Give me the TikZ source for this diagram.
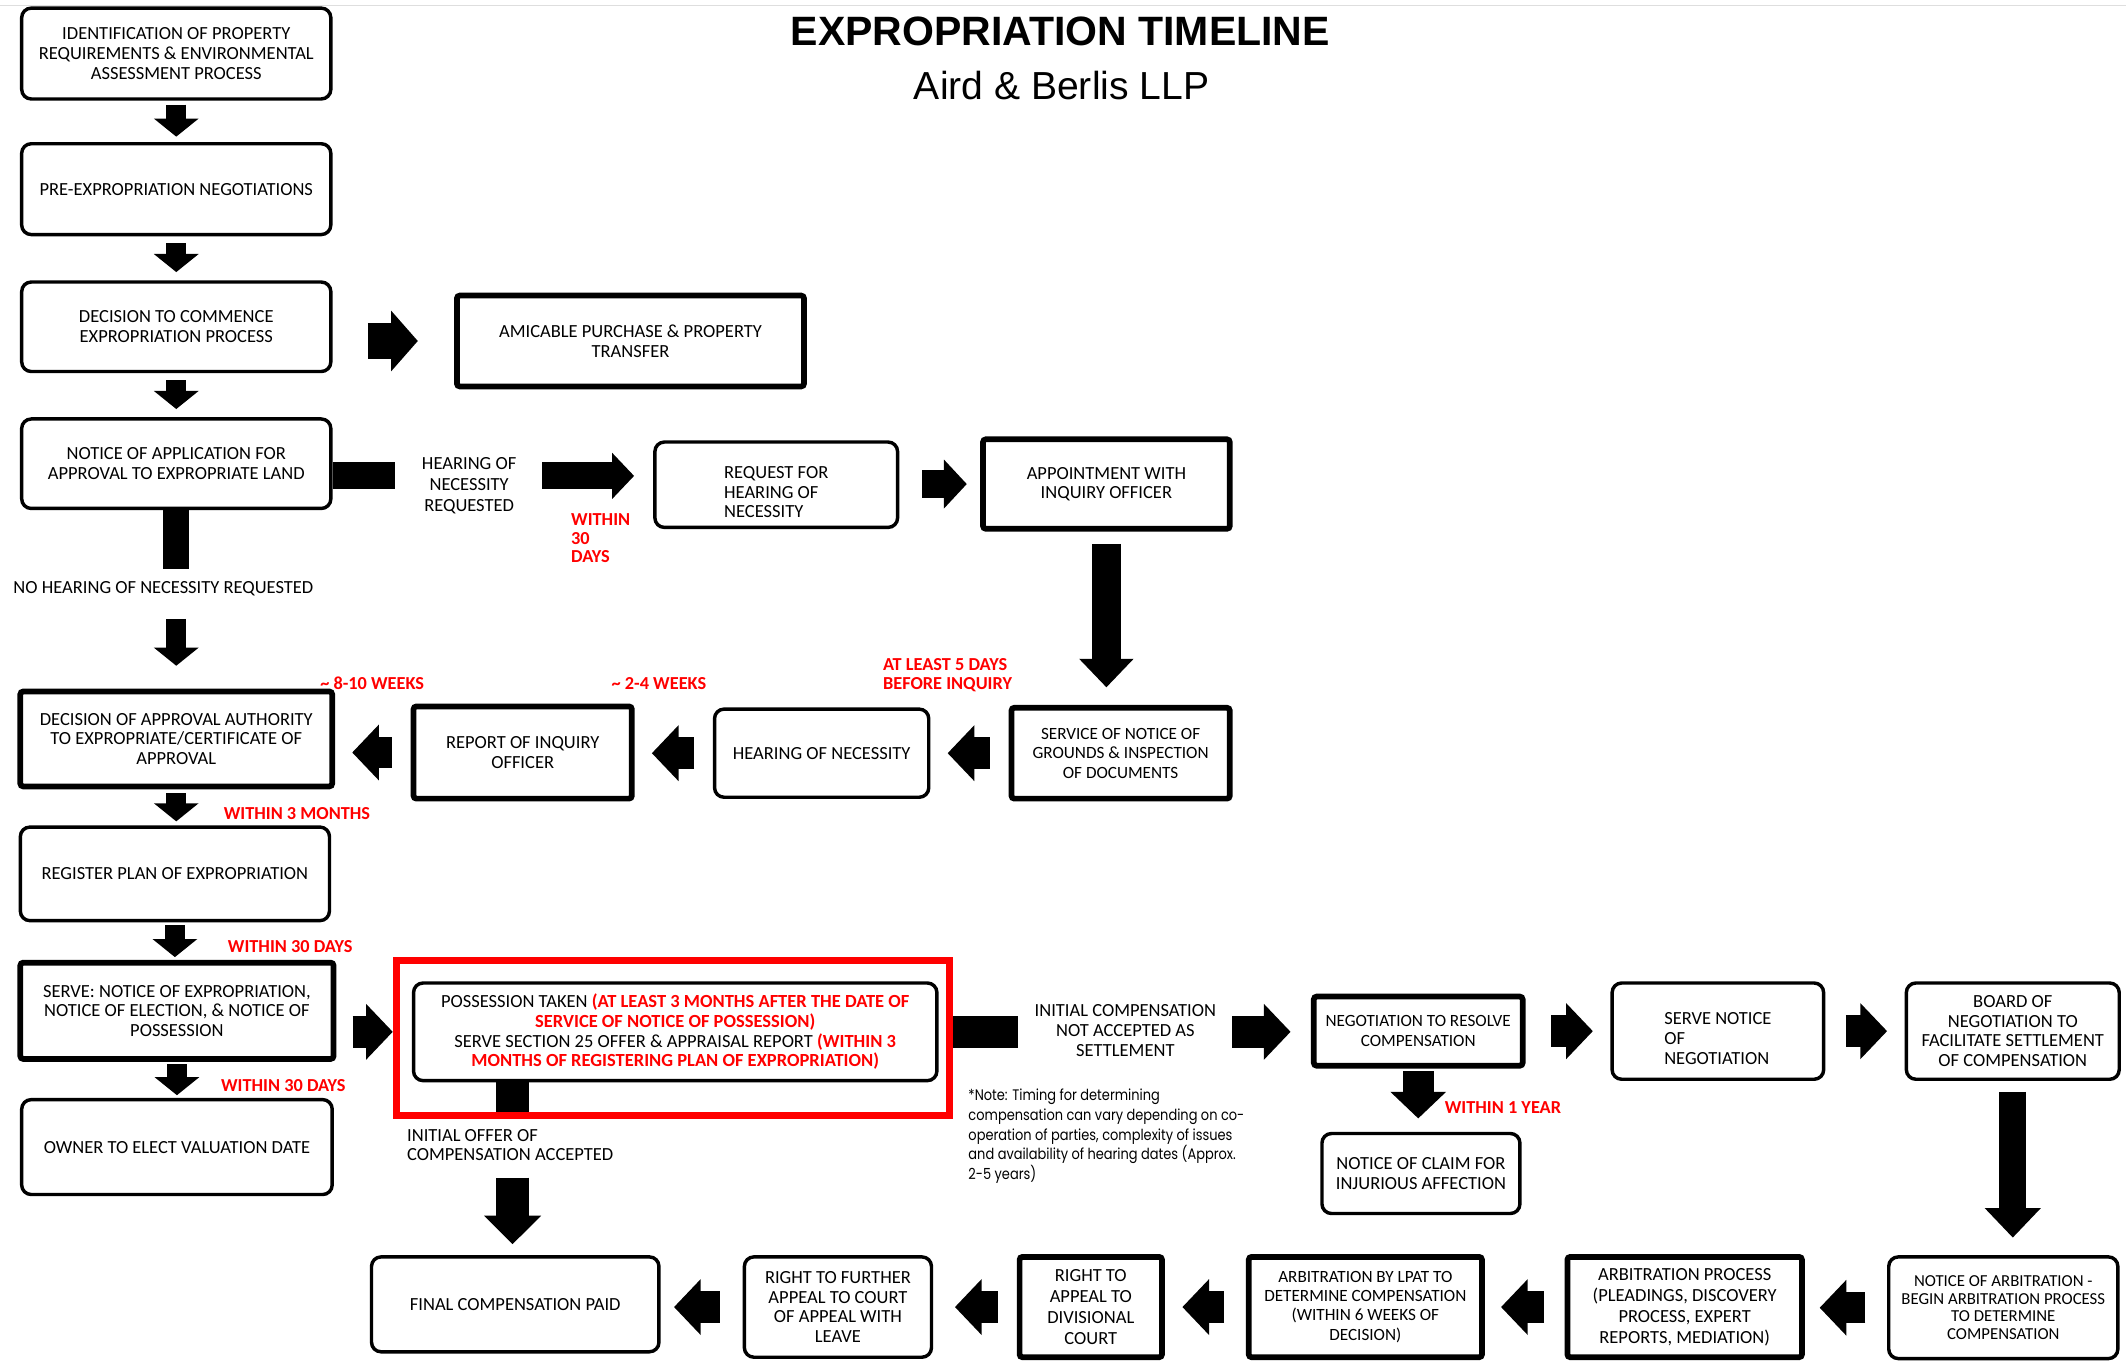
\documentclass[tikz,border=0pt]{standalone}
\usepackage{fontspec}
\setmainfont{Carlito}
\newfontfamily\headfont{Liberation Sans}
\newfontfamily\notefont{Poppins}[FakeStretch=0.85]
\usetikzlibrary{arrows.meta}
\definecolor{alert}{HTML}{FF0000}
\newcommand{\boxfont}{\fontsize{9.7}{10.3}\selectfont}
\newcommand{\redpart}[1]{{\color{alert}\bfseries #1}}
\newcommand{\lowstrut}{\rule{0pt}{14pt}}

\begin{document}
\begin{tikzpicture}[x=0.025cm, y=-0.025cm,
	sz/.style 2 args={minimum width=#1*0.025cm, minimum height=#2*0.025cm},
	stage/.style={draw, line width=1.8pt, rounded corners=5pt, align=center, inner sep=2pt, font=\boxfont},
	heavy/.style={stage, line width=3pt, rounded corners=1.5pt},
	tag/.style={text=alert, font=\fontsize{9.6}{9.8}\selectfont\bfseries, inner sep=0pt, align=left},
	plain/.style={font=\boxfont, inner sep=0pt, align=center},
	lcol/.style={line width=10.7pt, -{Triangle[width=23pt,length=9.5pt]}},
	mid/.style={line width=14.5pt, -{Triangle[width=25pt,length=12pt]}},
	fat/.style={line width=16.5pt, -{Triangle[width=28.5pt,length=14pt]}},
	bar/.style={line width=#1}]
	\fill[white] (0,0) rectangle (1568,1005);
	\useasboundingbox (0,0) rectangle (1568,1005);
	\draw[black!13, line width=0.8pt] (0,4) -- (1568,4);
	
	\node[font=\headfont\bfseries\fontsize{21.5}{22}\selectfont] (title) at (782,23) {EXPROPRIATION TIMELINE};
	\node[font=\headfont\fontsize{20.5}{21}\selectfont] (firm) at (783,63) {Aird \& Berlis LLP};
	
	% left column
	\node[stage, sz={228}{67}] (ident) at (130,39.5) {IDENTIFICATION OF PROPERTY\\REQUIREMENTS \& ENVIRONMENTAL\\ASSESSMENT PROCESS};
	\node[stage, sz={228}{67}] (preneg) at (130,139.5) {PRE-EXPROPRIATION NEGOTIATIONS};
	\node[stage, sz={228}{66}] (commence) at (130,241) {DECISION TO COMMENCE\\EXPROPRIATION PROCESS};
	\node[stage, sz={228}{66}] (notice) at (130,342) {NOTICE OF APPLICATION FOR\\APPROVAL TO EXPROPRIATE LAND};
	\node[heavy, sz={230}{70}] (approval) at (130,545) {DECISION OF APPROVAL AUTHORITY\\TO EXPROPRIATE/CERTIFICATE OF\\APPROVAL};
	\node[stage, sz={228}{69}] (register) at (129,644.5) {REGISTER PLAN OF EXPROPRIATION};
	\node[heavy, sz={231}{71}] (serve) at (130.5,745.5) {SERVE: NOTICE OF EXPROPRIATION,\\NOTICE OF ELECTION, \& NOTICE OF\\POSSESSION};
	\node[stage, sz={229}{70}] (owner) at (130.5,846) {OWNER TO ELECT VALUATION DATE};
	
	% hearing of necessity branch
	\node[heavy, sz={256}{67}] (amicable) at (465,251.5) {AMICABLE PURCHASE \& PROPERTY\\TRANSFER};
	\node[stage, sz={179}{63}, align=left] (request) at (572.5,357.5) {\lowstrut REQUEST FOR\\HEARING OF\\NECESSITY};
	\node[heavy, sz={182}{66}] (appoint) at (816,357) {APPOINTMENT WITH\\INQUIRY OFFICER};
	\node[heavy, sz={161}{68}] (report) at (385.5,555) {REPORT OF INQUIRY\\OFFICER};
	\node[stage, sz={158}{65}] (hearing) at (606,555.5) {HEARING OF NECESSITY};
	\node[heavy, sz={161}{67}, font=\fontsize{9}{10.3}\selectfont] (service) at (826.5,555.5) {SERVICE OF NOTICE OF\\GROUNDS \& INSPECTION\\OF DOCUMENTS};
	
	% compensation
	\node[stage, sz={386}{72}] (possess) at (498,761) {POSSESSION TAKEN \redpart{(AT LEAST 3 MONTHS AFTER THE DATE OF}\\\redpart{SERVICE OF NOTICE OF POSSESSION)}\\SERVE SECTION 25 OFFER \& APPRAISAL REPORT \redpart{(WITHIN 3}\\\redpart{MONTHS OF REGISTERING PLAN OF EXPROPRIATION)}};
	\node[draw=alert, line width=3.6pt, sz={408}{114}] (frame) at (496.5,765.5) {};
	\node[stage, sz={212}{70}] (final) at (380,962) {FINAL COMPENSATION PAID};
	\node[heavy, sz={154}{51}, font=\fontsize{9}{10.3}\selectfont] (negot) at (1046,760.5) {NEGOTIATION TO RESOLVE\\COMPENSATION};
	\node[stage, sz={146}{59}] (claim) at (1048,865.5) {NOTICE OF CLAIM FOR\\INJURIOUS AFFECTION};
	\node[stage, sz={156}{71}, align=left] (servneg) at (1267,760.5) {\lowstrut SERVE NOTICE\\OF\\NEGOTIATION};
	\node[stage, sz={157}{71}] (board) at (1484.5,760.5) {BOARD OF\\NEGOTIATION TO\\FACILITATE SETTLEMENT\\OF COMPENSATION};
	\node[stage, sz={169}{75}, font=\fontsize{8.8}{9.2}\selectfont] (notarb) at (1477.5,964.5) {NOTICE OF ARBITRATION -\\BEGIN ARBITRATION PROCESS\\TO DETERMINE\\COMPENSATION};
	\node[heavy, sz={173}{74}, font=\fontsize{9.7}{11}\selectfont] (arbproc) at (1242.5,964) {ARBITRATION PROCESS\\(PLEADINGS, DISCOVERY\\PROCESS, EXPERT\\REPORTS, MEDIATION)};
	\node[heavy, sz={172}{74}, font=\fontsize{9}{10}\selectfont] (lpat) at (1007,964) {ARBITRATION BY LPAT TO\\DETERMINE COMPENSATION\\(WITHIN 6 WEEKS OF\\DECISION)};
	\node[heavy, sz={105}{74}, font=\fontsize{9.7}{11}\selectfont] (divcourt) at (804.5,964) {RIGHT TO\\APPEAL TO\\DIVISIONAL\\COURT};
	\node[stage, sz={138}{74}] (appealct) at (618,964) {RIGHT TO FURTHER\\APPEAL TO COURT\\OF APPEAL WITH\\LEAVE};
	
	% labels
	\node[plain, font=\fontsize{9.7}{11}\selectfont] (hreq) at (346,358.5) {HEARING OF\\NECESSITY\\REQUESTED};
	\node[plain] (nohear) at (120.5,434) {NO HEARING OF NECESSITY REQUESTED};
	\node[plain, align=left, anchor=west] (offer) at (300,844.5) {INITIAL OFFER OF\\COMPENSATION ACCEPTED};
	\node[plain] (notacc) at (830,760) {INITIAL COMPENSATION\\NOT ACCEPTED AS\\SETTLEMENT};
	\node[tag, anchor=north west] (days30) at (421,378.5) {WITHIN\\30\\DAYS};
	\node[tag, anchor=north west] (atleast) at (651,485.5) {AT LEAST 5 DAYS\\BEFORE INQUIRY};
	\node[tag] (wk810) at (274.5,504) {\textasciitilde{} 8-10 WEEKS};
	\node[tag] (wk24) at (486,504) {\textasciitilde{} 2-4 WEEKS};
	\node[tag] (mon3) at (219,600) {WITHIN 3 MONTHS};
	\node[tag] (reg30) at (214,698) {WITHIN 30 DAYS};
	\node[tag] (own30) at (209,801) {WITHIN 30 DAYS};
	\node[tag] (yr1) at (1108.5,817) {WITHIN 1 YEAR};
	\node[anchor=north west, inner sep=0pt, align=left, font=\notefont\fontsize{8}{10.3}\selectfont] (note) at (714,803) {*Note: Timing for determining\\compensation can vary depending on co-\\operation of parties, complexity of issues\\and availability of hearing dates (Approx.\\2-5 years)};
	
	% connectors
	\foreach \a/\b/\s/\t in {ident/preneg/2.1/2.8, preneg/commence/3.6/4.3, commence/notice/3.6/4.3, approval/register/2.1/2.1, register/serve/1.4/1.4, serve/owner/1.4/1.4}
	\draw[lcol, shorten <=\s pt, shorten >=\t pt] (\a.south) -- (\a.south |- \b.north);
	
	\coordinate (nobar) at (130,420);
	\draw[bar=13.5pt] (notice.south) -- (nobar);
	\draw[lcol, shorten <=12pt, shorten >=12pt] (approval.north |- nohear.south) -- (approval.north);
	
	\coordinate (hbar) at (291,351);
	\coordinate (harr) at (400,351);
	\draw[bar=14.2pt] (notice.east |- hbar) -- (hbar);
	\draw[mid, line width=14.2pt, -{Triangle[width=23.5pt,length=11.5pt]}, shorten >=10pt] (harr) -- (request.west |- harr);
	\draw[mid, shorten <=12pt, shorten >=7pt] (request.east |- appoint.west) -- (appoint.west);
	\draw[fat, line width=15.6pt, -{Triangle[width=27.7pt,length=15pt]}, shorten <=6.4pt, shorten >=9.2pt] (appoint.south) -- (appoint.south |- service.north);
	\foreach \a/\b in {service/hearing, hearing/report, report/approval}
	\draw[fat, shorten <=9.8pt, shorten >=9pt] (\a.west) -- (\b.east |- \a.west);
	\draw[fat, line width=19pt, -{Triangle[width=31pt,length=14pt]}, shorten <=18.5pt, shorten >=19pt] (commence.east |- amicable.west) -- (amicable.west);
	
	\draw[fat, shorten <=8.5pt, shorten >=10pt] (serve.east |- possess.west) -- (possess.west);
	\coordinate (obar) at (378,820);
	\draw[bar=17pt] (obar |- possess.south) -- (obar);
	\draw[fat, line width=17pt, -{Triangle[width=29pt,length=15pt]}, shorten <=8.5pt, shorten >=5.7pt] (obar |- offer.south) -- (obar |- final.north);
	\coordinate (cbar) at (751,761);
	\coordinate (carr) at (909,761);
	\draw[bar=17pt] (frame.east |- cbar) -- (cbar);
	\draw[fat, shorten >=10.7pt] (carr) -- (negot.west |- carr);
	
	\draw[fat, shorten <=1.5pt, shorten >=7pt] (negot.south) -- (negot.south |- claim.north);
	\draw[fat, shorten <=13.5pt, shorten >=9.2pt] (negot.east) -- (servneg.west |- negot.east);
	\draw[fat, shorten <=10.7pt, shorten >=9.2pt] (servneg.east) -- (board.west);
	\draw[fat, line width=14.2pt, -{Triangle[width=28.5pt,length=15.5pt]}, shorten <=5.7pt, shorten >=9.2pt] (board.south) -- (board.south |- notarb.north);
	\foreach \a/\b/\s/\t in {notarb/arbproc/11.4/7.8, arbproc/lpat/10.7/8.5, lpat/divcourt/11.4/9.2, divcourt/appealct/10/11.4, appealct/final/12/7}
	\draw[fat, shorten <=\s pt, shorten >=\t pt] (\a.west) -- (\b.east |- \a.west);
\end{tikzpicture}
\end{document}
